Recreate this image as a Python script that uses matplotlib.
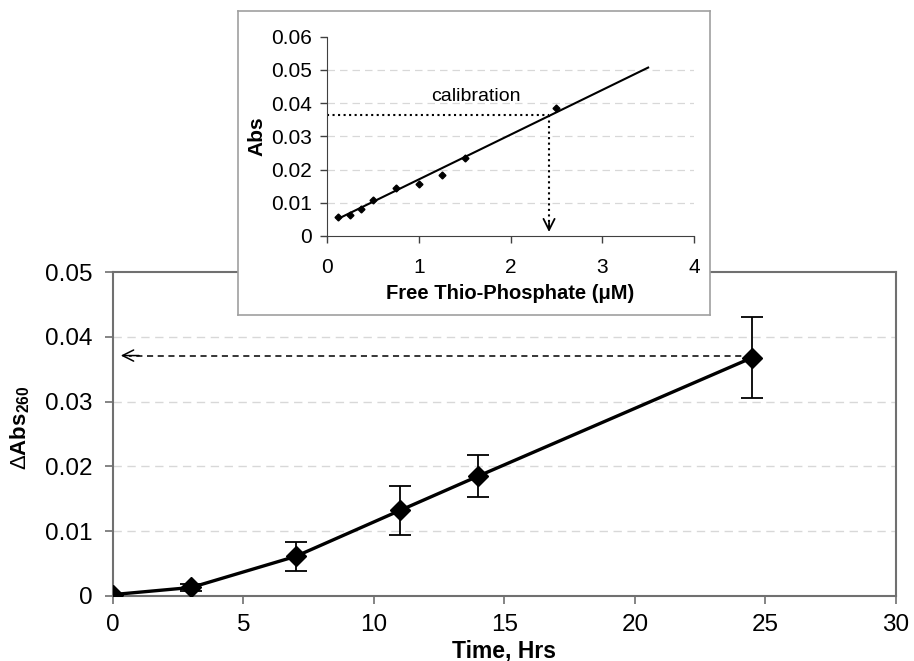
import matplotlib.pyplot as plt
import numpy as np

plt.rcParams['font.family'] = ['Liberation Sans', 'DejaVu Sans']
plt.rcParams['mathtext.fontset'] = 'custom'
plt.rcParams['mathtext.rm'] = 'Liberation Sans'
plt.rcParams['mathtext.bf'] = 'Liberation Sans:bold'

# main time course
time_hrs = [0, 3, 7, 11, 14, 24.5]
d_abs = [0.0002, 0.0013, 0.0061, 0.0132, 0.0185, 0.0368]
d_abs_err = [0.0, 0.0005, 0.0022, 0.0038, 0.0033, 0.0063]
main_xticks = [0, 5, 10, 15, 20, 25, 30]
main_yticks = [0, 0.01, 0.02, 0.03, 0.04, 0.05]
main_ylabels = ['0', '0.01', '0.02', '0.03', '0.04', '0.05']
read_level = 0.0371

# calibration inset
cal_x = [0.125, 0.25, 0.375, 0.5, 0.75, 1.0, 1.25, 1.5, 2.5]
cal_y = [0.0057, 0.0062, 0.0080, 0.0108, 0.0145, 0.0157, 0.0183, 0.0236, 0.0384]
fit_x = [0.13, 3.5]
fit_y = [0.0053, 0.0507]
cal_read_x = 2.42
cal_read_y = 0.0365
cal_xticks = [0, 1, 2, 3, 4]
cal_yticks = [0, 0.01, 0.02, 0.03, 0.04, 0.05, 0.06]
cal_ylabels = ['0', '0.01', '0.02', '0.03', '0.04', '0.05', '0.06']

fig = plt.figure(figsize=(9.14, 6.61), dpi=100)

ax = fig.add_axes([0.1236, 0.0985, 0.8567, 0.4900])
ax.errorbar(time_hrs, d_abs, yerr=d_abs_err, color='black', lw=2.4,
            marker='D', ms=10, ecolor='black', elinewidth=1.3,
            capsize=8, capthick=1.3, zorder=3)
ax.plot([time_hrs[-1], 0.6], [read_level, read_level], color='black',
        lw=1.1, ls=(0, (4, 3)), zorder=2)
ax.annotate('', xy=(0.3, read_level), xytext=(1.0, read_level),
            arrowprops=dict(arrowstyle='->', lw=1.1, color='black',
                            mutation_scale=20, shrinkA=0, shrinkB=0))
ax.set_xlim(0, 30)
ax.set_ylim(0, 0.05)
ax.set_xticks(main_xticks)
ax.set_yticks(main_yticks)
ax.set_yticklabels(main_ylabels)
ax.tick_params(labelsize=17.5, color='#707070', length=6, width=1.2, direction='out')
ax.tick_params(axis='x', pad=7)
ax.tick_params(axis='y', pad=9)
for gy in main_yticks[1:-1]:
    ax.axhline(gy, color='#d8d8d8', lw=1, ls=(0, (6, 4)), zorder=1)
for s in ax.spines.values():
    s.set_color('#707070')
    s.set_linewidth(1.5)
ax.set_xlabel('Time, Hrs', fontsize=16.5, fontweight='bold', va='top')
ax.xaxis.set_label_coords(0.5, -0.134)
ax.set_ylabel(r'$\Delta\mathbf{Abs}_{\mathbf{260}}$', fontsize=16)
ax.yaxis.set_label_coords(-0.103, 0.52)

# inset frame
box = fig.add_axes([0.2604, 0.5234, 0.5164, 0.4599])
box.set_xticks([])
box.set_yticks([])
for s in box.spines.values():
    s.set_color('#a0a0a0')
    s.set_linewidth(1.2)

ins = fig.add_axes([0.3578, 0.6430, 0.4015, 0.3015])
ins.plot(fit_x, fit_y, color='black', lw=1.5, zorder=3)
ins.plot(cal_x, cal_y, 'D', color='black', ms=3.5, zorder=4)
ins.plot([0, cal_read_x], [cal_read_y, cal_read_y], color='black', lw=1.5, ls=':')
ins.plot([cal_read_x, cal_read_x], [cal_read_y, 0.002], color='black', lw=1.5, ls=':')
ins.annotate('', xy=(cal_read_x, 0.0012), xytext=(cal_read_x, 0.004),
             arrowprops=dict(arrowstyle='->', lw=1.3, color='black',
                             mutation_scale=20, shrinkA=0, shrinkB=0))
ins.text(1.62, 0.042, 'calibration', fontsize=14, ha='center', va='center')
for gy in cal_yticks[1:-1]:
    ins.axhline(gy, color='#d8d8d8', lw=0.9, ls=(0, (6, 4)), zorder=1)
ins.set_xlim(0, 4)
ins.set_ylim(0, 0.06)
ins.set_xticks(cal_xticks)
ins.set_yticks(cal_yticks)
ins.set_yticklabels(cal_ylabels)
ins.tick_params(labelsize=15, color='#404040', length=5, width=1, direction='out')
ins.tick_params(axis='x', pad=11)
ins.tick_params(axis='y', pad=6)
ins.spines['top'].set_visible(False)
ins.spines['right'].set_visible(False)
for side in ['left', 'bottom']:
    ins.spines[side].set_color('#404040')
ins.set_xlabel('Free Thio-Phosphate (\u03bcM)', fontsize=14.5, fontweight='bold', labelpad=5)
ins.set_ylabel('Abs', fontsize=15, fontweight='bold', labelpad=3)

fig.savefig('out.png', dpi=100)
